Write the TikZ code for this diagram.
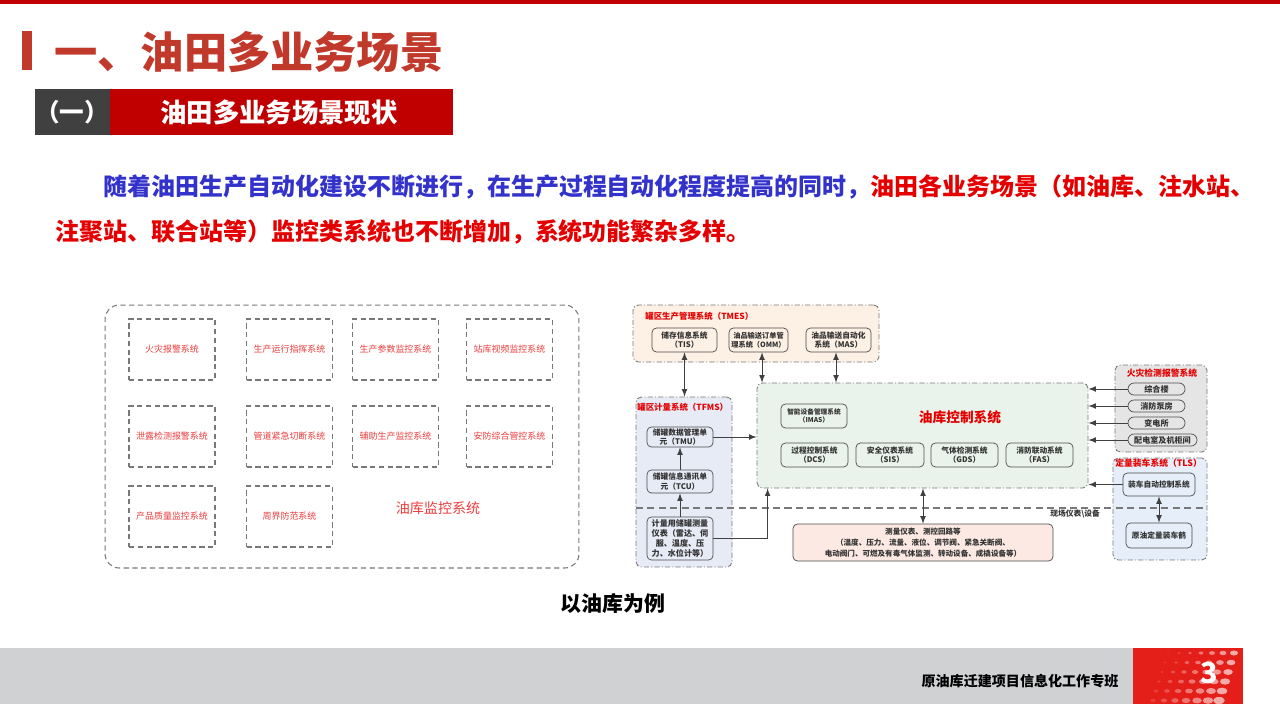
\documentclass[tikz,border=0pt]{standalone}
\usepackage{fontspec}
\setmainfont{Noto Sans CJK SC}
\usetikzlibrary{arrows}
\definecolor{titlered}{RGB}{192,57,43}
\definecolor{barred}{RGB}{192,0,0}
\definecolor{bardark}{RGB}{64,64,64}
\definecolor{textblue}{RGB}{51,51,204}
\definecolor{textred}{RGB}{228,0,0}
\definecolor{lightred}{RGB}{235,60,60}
\definecolor{linegray}{RGB}{120,120,120}
\definecolor{tmesbg}{RGB}{253,240,228}
\definecolor{tfmsbg}{RGB}{231,235,246}
\definecolor{ctlbg}{RGB}{234,243,235}
\definecolor{measbg}{RGB}{252,233,227}
\definecolor{firebg}{RGB}{229,229,229}
\definecolor{tlsbg}{RGB}{229,238,249}
\definecolor{footgray}{RGB}{208,209,211}
\definecolor{footred}{RGB}{228,30,24}

\begin{document}
\begin{tikzpicture}[x=0.02cm,y=-0.02cm,
  outerbox/.style={draw=linegray,dash pattern=on 3pt off 2pt,rounded corners=8pt,line width=0.6pt,minimum width=9.48cm,minimum height=5.26cm},
  monbox/.style={draw=linegray,dash pattern=on 3pt off 2pt,line width=0.6pt,minimum width=1.72cm,minimum height=1.22cm,text=lightred,font=\fontsize{5.1pt}{6pt}\selectfont,inner sep=0pt},
  group/.style={draw=linegray,dash pattern=on 3pt off 1.2pt on 0.6pt off 1.2pt,rounded corners=3pt,line width=0.5pt,inner sep=0pt},
  grouptitle/.style={text=textred,font=\bfseries\fontsize{4.8pt}{5.5pt}\selectfont,inner sep=0pt},
  sysbox/.style={draw=black!70,rounded corners=2.5pt,line width=0.4pt,align=center,inner sep=0pt,font=\bfseries\fontsize{4.4pt}{5.3pt}\selectfont,text=black!80},
  pill/.style={draw=black!70,rounded corners=3.4pt,line width=0.4pt,minimum height=0.24cm,inner sep=0pt,font=\bfseries\fontsize{4.6pt}{5pt}\selectfont,text=black!80},
  link/.style={-latex,line width=0.5pt,black!75},
  biarrow/.style={latex-latex,line width=0.5pt,black!75},
  sepline/.style={line width=0.6pt,linegray,dash pattern=on 4pt off 2.5pt}]
\useasboundingbox (0,0) rectangle (1280,720);
\fill[barred] (0,0) rectangle (1280,4);
\fill[titlered] (22,31) rectangle (32,70);
\node[anchor=west,inner sep=0pt,text=titlered,font=\bfseries\fontsize{24.6pt}{26pt}\selectfont] (title) at (54,52) {一、油田多业务场景};
\fill[bardark] (35,89) rectangle (110,135);
\fill[barred] (110,89) rectangle (453,135);
\node[text=white,font=\bfseries\fontsize{14pt}{16pt}\selectfont] (secno) at (72,112) {（一）};
\node[text=white,font=\bfseries\fontsize{15pt}{17pt}\selectfont] (sectitle) at (279,112) {油田多业务场景现状};
\node[anchor=west,inner sep=0pt,font=\bfseries\fontsize{13.65pt}{16pt}\selectfont] (line1) at (103,187) {\textcolor{textblue}{随着油田生产自动化建设不断进行，在生产过程自动化程度提高的同时，}\textcolor{textred}{油田各业务场景（如油库、注水站、}};
\node[anchor=west,inner sep=0pt,text=textred,font=\bfseries\fontsize{13.65pt}{16pt}\selectfont] (line2) at (55,232) {注聚站、联合站等）监控类系统也不断增加，系统功能繁杂多样。};

\node[outerbox] (monitor) at (342,436.5) {};
\foreach \n/\x/\y/\t in {m11/172/349.5/火灾报警系统,m12/289.5/349.5/生产运行指挥系统,m13/395.5/349.5/生产参数监控系统,m14/509.5/349.5/站库视频监控系统,
  m21/172/436.5/泄露检测报警系统,m22/289.5/436.5/管道紧急切断系统,m23/395.5/436.5/辅助生产监控系统,m24/509.5/436.5/安防综合管控系统,
  m31/172/516.5/产品质量监控系统,m32/289.5/516.5/周界防范系统}
  \node[monbox] (\n) at (\x,\y) {\t};
\node[text=lightred,font=\fontsize{8pt}{9pt}\selectfont] (montitle) at (438,508) {油库监控系统};
\node[font=\bfseries\fontsize{11.9pt}{13pt}\selectfont] (caption) at (613,604) {以油库为例};

\node[group,fill=tmesbg,minimum width=4.92cm,minimum height=1.14cm] (tmes) at (756,333.5) {};
\node[group,fill=tfmsbg,minimum width=1.92cm,minimum height=3.4cm] (tfms) at (684,482) {};
\node[group,fill=ctlbg,minimum width=6.62cm,minimum height=2.1cm] (ctl) at (922.5,435.5) {};
\node[group,fill=firebg,minimum width=1.84cm,minimum height=1.74cm] (fire) at (1161,408.5) {};
\node[group,fill=tlsbg,minimum width=1.88cm,minimum height=2.04cm] (tls) at (1160,509) {};
\draw[sepline] (636,508) -- (1207,508);
\node[anchor=west,inner sep=0pt,font=\bfseries\fontsize{4.4pt}{5pt}\selectfont,text=black!80] (field) at (1050,514) {现场仪表\textbackslash 设备};

\node[grouptitle,anchor=west] (tmestitle) at (645,316) {罐区生产管理系统（TMES）};
\node[sysbox,minimum width=1.3cm,minimum height=0.48cm] (tis) at (684.5,340) {储存信息系统\\（TIS）};
\node[sysbox,minimum width=1.18cm,minimum height=0.48cm,font=\bfseries\fontsize{4.1pt}{5.3pt}\selectfont] (omm) at (758.5,340) {油品输送订单管\\理系统（OMM）};
\node[sysbox,minimum width=1.3cm,minimum height=0.48cm] (mas) at (838.5,340) {油品输送自动化\\系统（MAS）};

\node[grouptitle,anchor=west] (tfmstitle) at (637,407) {罐区计量系统（TFMS）};
\node[sysbox,minimum width=1.32cm,minimum height=0.4cm] (tmu) at (680,437) {储罐数据管理单\\元（TMU）};
\node[sysbox,minimum width=1.32cm,minimum height=0.46cm] (tcu) at (680,481.5) {储罐信息通讯单\\元（TCU）};
\node[sysbox,minimum width=1.32cm,minimum height=0.86cm,font=\bfseries\fontsize{4.6pt}{5.7pt}\selectfont] (meter) at (680,538.5) {计量用储罐测量\\仪表（雷达、伺\\服、温度、压\\力、水位计等）};

\node[text=textred,font=\bfseries\fontsize{7.8pt}{9pt}\selectfont] (ctltitle) at (960,417) {油库控制系统};
\node[sysbox,minimum width=1.32cm,minimum height=0.48cm,font=\bfseries\fontsize{3.8pt}{5pt}\selectfont] (imas) at (814,416) {智能设备管理系统\\（IMAS）};
\node[sysbox,minimum width=1.34cm,minimum height=0.48cm] (dcs) at (814.5,455) {过程控制系统\\（DCS）};
\node[sysbox,minimum width=1.36cm,minimum height=0.48cm] (sis) at (890,455) {安全仪表系统\\（SIS）};
\node[sysbox,minimum width=1.34cm,minimum height=0.48cm] (gds) at (964.5,455) {气体检测系统\\（GDS）};
\node[sysbox,minimum width=1.34cm,minimum height=0.48cm] (fas) at (1039.5,455) {消防联动系统\\（FAS）};

\node[sysbox,fill=measbg,minimum width=5.2cm,minimum height=0.74cm,font=\bfseries\fontsize{4.3pt}{6.3pt}\selectfont] (meas) at (923,542.5) {测量仪表、测控回路等\\（温度、压力、流量、液位、调节阀、紧急关断阀、\\电动阀门、可燃及有毒气体监测、转动设备、成橇设备等）};

\node[grouptitle,font=\bfseries\fontsize{5pt}{6pt}\selectfont] (firetitle) at (1162,373) {火灾检测报警系统};
\node[pill,minimum width=1.14cm] (f1) at (1156.5,389) {综合楼};
\node[pill,minimum width=1.14cm] (f2) at (1156.5,406) {消防泵房};
\node[pill,minimum width=1.14cm] (f3) at (1156.5,423) {变电所};
\node[pill,minimum width=1.38cm] (f4) at (1162.5,440) {配电室及机柜间};

\node[grouptitle,anchor=west,font=\bfseries\fontsize{5pt}{6pt}\selectfont] (tlstitle) at (1115,463) {定量装车系统（TLS）};
\node[sysbox,minimum width=1.44cm,minimum height=0.46cm] (load) at (1159,484.5) {装车自动控制系统};
\node[sysbox,minimum width=1.32cm,minimum height=0.5cm] (crane) at (1159,535.5) {原油定量装车鹤};

\draw[biarrow] (tis.south) -- (tis.south |- tfms.north);
\draw[biarrow] ([xshift=0.07cm]omm.south) -- ([xshift=0.07cm]omm.south |- ctl.north);
\draw[biarrow] ([xshift=-0.05cm]mas.south) -- ([xshift=-0.05cm]mas.south |- ctl.north);
\draw[link] (tmu.east) -- (tmu.east -| ctl.west);
\draw[link] (tcu.north) -- (tmu.south);
\draw[link] (meter.north) -- (tcu.south);
\draw[link] (meter.east) -| ([xshift=0.22cm]ctl.south west);
\draw[biarrow] (meas.north) -- (meas.north |- ctl.south);
\foreach \f in {f1,f2,f3,f4}
  \draw[link] (\f.west) -- (\f.west -| ctl.east);
\draw[link] (load.west) -- (load.west -| ctl.east);
\draw[biarrow] (load.south) -- (crane.north);

\fill[footgray] (0,648) rectangle (1133,704);
\fill[footred] (1133,648) rectangle (1243,704);
\begin{scope}
\clip (1133,648) rectangle (1243,704);
\foreach \j in {0,...,5}
  \foreach \i in {0,...,6}
    \fill[white,opacity={0.15+0.08*\i}] (1168+\i*11-\j*3,653+\j*9.5) ellipse ({(0.5+0.3*\i+0.2*\j)*1pt} and {(0.35+0.18*\i+0.12*\j)*1pt});
\end{scope}
\node[font=\bfseries\fontsize{8pt}{9pt}\selectfont] (footer) at (1020,681) {原油库迁建项目信息化工作专班};
\node[text=white,font=\bfseries\fontsize{16.4pt}{18pt}\selectfont] (pageno) at (1209,673) {3};
\end{tikzpicture}
\end{document}
